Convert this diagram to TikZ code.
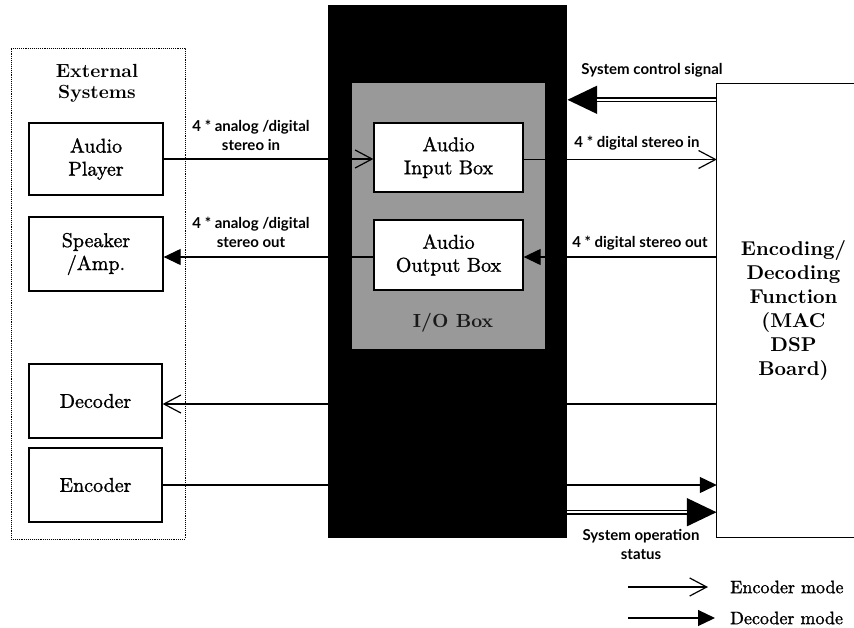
\documentclass[tikz,border=0pt]{standalone}
\usepackage{fontspec}
\setmainfont{lmroman10-regular.otf}[BoldFont=lmroman10-bold.otf]
\newfontfamily\heavyrm{lmroman10-regular.otf}[FakeBold=1.2]
\setsansfont{Lato}
\usetikzlibrary{arrows.meta}
\tikzset{
  sysbox/.style={draw, line width=1.3pt, fill=white, align=center, inner sep=0pt,
    font=\heavyrm\fontsize{20}{23}\selectfont},
  lbl/.style={font=\sffamily\bfseries\fontsize{15}{19}\selectfont, align=center, inner sep=0pt},
  bigtxt/.style={font=\bfseries\fontsize{19}{21}\selectfont, align=center, inner sep=0pt},
  conn/.style={line width=1.2pt},
  openarr/.style={conn, -{Straight Barb[length=17pt, width=18pt, line width=1.2pt]}},
  fillarr/.style={conn, -{Triangle[length=17pt, width=16pt]}},
  bigarr/.style={line width=5pt, -{Triangle[length=30pt, width=27pt]}},
  dblgap/.style={white, line width=1.8pt},
}
\begin{document}
\begin{tikzpicture}[x=1pt,y=-1pt]
\useasboundingbox (0,0) rectangle (854,627);
\clip (0,0) rectangle (854,627);

% External systems group
\node[draw, densely dotted, line width=0.9pt, minimum width=174pt, minimum height=491pt, inner sep=0pt]
  (ext) at (98,293.5) {};
\node[bigtxt] (extt) at (97,83) {External\\Systems};

\node[sysbox, minimum width=134pt, minimum height=72pt] (ap) at (96,159) {Audio\\Player};
\node[sysbox, minimum width=134pt, minimum height=74pt] (sp) at (96,254) {Speaker\\/Amp.};
\node[sysbox, minimum width=133pt, minimum height=74pt] (dec) at (95.5,401) {Decoder};
\node[sysbox, minimum width=133pt, minimum height=74pt] (encd) at (95.5,485) {Encoder};

% I/O block
\node[fill=black, minimum width=239pt, minimum height=533pt, inner sep=0pt] (io) at (447.5,271.5) {};
\node[fill=black!40, minimum width=193pt, minimum height=266pt, inner sep=0pt] (iog) at (448.5,216) {};
\node[bigtxt, text=black!90] (iot) at (453,323) {I/O Box};
\node[sysbox, minimum width=149pt, minimum height=69pt] (ain) at (448.5,157.5) {Audio\\Input Box};
\node[sysbox, minimum width=149pt, minimum height=70pt] (aout) at (448.5,255) {Audio\\Output Box};

% Encoding / decoding function
\node[minimum width=153pt, minimum height=453pt, inner sep=0pt, bigtxt,
  font=\bfseries\fontsize{20}{24}\selectfont] (enc) at (793.5,310.5)
  {Encoding/\\Decoding\\Function\\(MAC\\DSP\\Board)};
\draw[line width=1.3pt] (enc.north east) -- (enc.north west) -- (enc.south west) -- (enc.south east);

% Connectors
\draw[openarr] (ap.east) -- (ap.east -| ain.west);
\node[lbl] (l1) at (251,135) {4 * analog /digital\\stereo in};

\draw[fillarr] ([yshift=-2pt]aout.west) -- ([yshift=-2pt]aout.west -| sp.east);
\node[lbl] (l2) at (251,232) {4 * analog /digital\\stereo out};

\draw[openarr] ([yshift=-2pt]ain.east) -- ([yshift=-2pt]ain.east -| enc.west);
\node[lbl] (l3) at (637,143) {4 * digital stereo in};

\draw[fillarr] ([yshift=-2pt]aout.east -| enc.west) -- ([yshift=-2pt]aout.east);
\node[lbl] (l4) at (640,243) {4 * digital stereo out};

\draw[openarr] ([yshift=-3pt]dec.east -| enc.west) -- ([yshift=-3pt]dec.east);
\draw[fillarr] (encd.east) -- (encd.east -| enc.west);

% System control signal (double arrow)
\coordinate (scA) at ([yshift=-16pt]enc.north west);
\coordinate (scB) at (scA -| io.east);
\draw[bigarr] (scA) -- (scB);
\draw[dblgap, shorten <=1pt, shorten >=30pt] (scA) -- (scB);
\node[lbl] (l5) at (652,70) {System control signal};

% System operation status (double arrow)
\coordinate (soA) at ([yshift=25pt]enc.south west -| io.east);
\coordinate (soB) at ([yshift=25pt]enc.south west);
\draw[bigarr] (soA) -- (soB);
\draw[dblgap, shorten >=30pt] (soA) -- (soB);
\node[lbl] (l6) at (641,544) {System operation\\status};

% Legend
\node[anchor=west, inner sep=0pt, font=\heavyrm\fontsize{18}{20}\selectfont] (lenc) at (730,587) {Encoder mode};
\node[anchor=west, inner sep=0pt, font=\heavyrm\fontsize{18}{20}\selectfont] (ldec) at (730,618) {Decoder mode};
\coordinate (lencs) at (628,587);
\coordinate (ldecs) at (628,618);
\draw[openarr] (lencs) -- ([xshift=-22pt]lenc.west);
\draw[fillarr] (ldecs) -- ([xshift=-15pt]ldec.west);
\end{tikzpicture}
\end{document}
